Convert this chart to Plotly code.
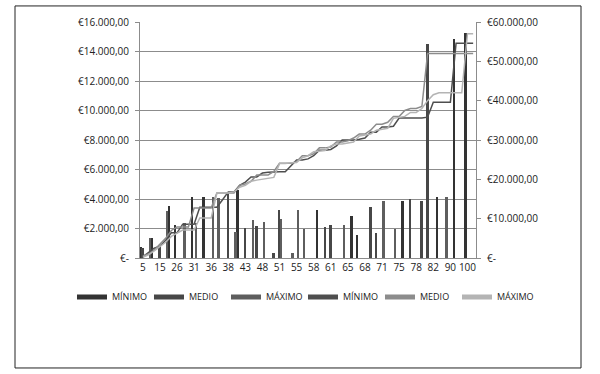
import plotly.graph_objects as go

# ---- data -------------------------------------------------------------
tick_labels = ["5", "15", "26", "31", "36", "38", "43", "48", "51", "55",
               "58", "61", "65", "68", "71", "75", "78", "82", "90", "100"]
n_slots = 59  # one labelled category every 3 slots

# bars (left axis) : slot index -> value
bar_min_slots = [0, 2, 5, 6, 9, 11, 17, 31, 37, 38, 46, 52, 55, 57]
bar_min_vals = [750, 1350, 3500, 2250, 4150, 4150, 4600, 3250, 2850, 1560, 3860, 4140, 14850, 15250]

bar_med_slots = [0, 3, 15, 18, 20, 23, 24, 32, 33, 40, 41, 47, 49, 50]
bar_med_vals = [700, 800, 4450, 2030, 2170, 340, 3250, 2100, 2240, 3450, 1700, 4000, 3860, 14500]

bar_max_slots = [1, 4, 7, 9, 12, 13, 16, 19, 21, 24, 26, 27, 28, 35, 42, 44, 53]
bar_max_vals = [1350, 3200, 2350, 2350, 4150, 4100, 1760, 2580, 2440, 2640, 340, 3250, 1970, 2240, 3860, 1970, 4140]

# lines (right axis): one value per slot
line_min = [300, 1500, 2500, 3000, 4500, 6400, 6400, 8600, 8600, 8600,
            12900, 12900, 12900, 12900, 14800, 16800, 16800, 18500, 19300, 20600,
            20600, 21600, 21800, 21900, 21900, 21900, 23500, 24900, 24900, 25200,
            26000, 27400, 27400, 27600, 28500, 30000, 30000, 30000, 30200, 30500,
            32000, 32000, 33300, 33300, 33500, 35600, 35600, 35600, 35600, 35600,
            35800, 39600, 39600, 39600, 39600, 54600, 54600, 54600, 54600]
line_med = [500, 1000, 2000, 3500, 5000, 7000, 7900, 7900, 7900, 12700,
            12700, 12700, 12700, 16500, 16500, 16500, 16500, 18500, 18800, 19500,
            21100, 21100, 21100, 22000, 24100, 24100, 24100, 24500, 26000, 26000,
            26500, 28000, 28000, 28200, 29500, 29500, 29800, 30500, 31500, 31500,
            32500, 34000, 34000, 34500, 36000, 36000, 37500, 38000, 38000, 38500,
            52000, 52000, 52000, 52000, 52000, 52000, 52000, 52000, 52000]
line_max = [200, 800, 1800, 3000, 4000, 5500, 6300, 7100, 7100, 7100,
            10200, 10200, 10200, 16500, 16500, 16500, 16800, 18000, 18500, 19500,
            19800, 20000, 20300, 20500, 24000, 24000, 24200, 24300, 25500, 26000,
            27000, 27200, 27300, 28500, 29000, 29000, 29200, 29500, 31000, 31300,
            31500, 32500, 32800, 33000, 35500, 35800, 36000, 37000, 37000, 38000,
            40000, 41500, 42000, 42000, 42000, 42000, 42000, 57000, 57000]

left_ticks = [0, 2000, 4000, 6000, 8000, 10000, 12000, 14000, 16000]
left_text = ["€-", "€2.000,00", "€4.000,00", "€6.000,00", "€8.000,00",
             "€10.000,00", "€12.000,00", "€14.000,00", "€16.000,00"]
right_ticks = [0, 10000, 20000, 30000, 40000, 50000, 60000]
right_text = ["€-", "€10.000,00", "€20.000,00", "€30.000,00",
              "€40.000,00", "€50.000,00", "€60.000,00"]

bar_names = ["MÍNIMO", "MEDIO", "MÁXIMO"]
line_names = ["MÍNIMO", "MEDIO", "MÁXIMO"]
bar_colors = ["#333333", "#474747", "#5e5e5e"]
line_colors = ["#4e4e4e", "#8c8c8c", "#b4b4b4"]

# ---- figure -----------------------------------------------------------
fig = go.Figure()
for name, xs, ys, c in zip(bar_names,
                           [bar_min_slots, bar_med_slots, bar_max_slots],
                           [bar_min_vals, bar_med_vals, bar_max_vals],
                           bar_colors):
    fig.add_trace(go.Bar(x=xs, y=ys, name=name, marker_color=c,
                         marker_line_width=0, yaxis="y", showlegend=False))

slots = list(range(n_slots))
for name, ys, c in zip(line_names, [line_min, line_med, line_max], line_colors):
    fig.add_trace(go.Scatter(x=slots, y=ys, name=name, mode="lines",
                             line=dict(color=c, width=1.5), yaxis="y2",
                             showlegend=False))

# legend entries (thick swatches as in the reference)
for name, c in zip(bar_names + line_names, bar_colors + line_colors):
    fig.add_trace(go.Scatter(x=[None], y=[None], mode="lines", name=name,
                             line=dict(color=c, width=5), showlegend=True))

axis_col = "#8c8c8c"
fig.update_layout(
    width=600, height=374,
    margin=dict(l=140, r=124, t=22, b=116, autoexpand=False),
    paper_bgcolor="white", plot_bgcolor="white",
    barmode="group", bargap=0.0, bargroupgap=0.0,
    font=dict(family="Open Sans", size=10, color="#222222"),
    showlegend=True,
    legend=dict(orientation="h", x=-0.2024, xanchor="left",
                y=-0.165, yanchor="middle",
                font=dict(size=9, color="#222222"),
                itemwidth=30, tracegroupgap=0, entrywidth=32,
                entrywidthmode="pixels"),
    xaxis=dict(range=[-0.5, n_slots - 0.5], tickmode="array",
               tickvals=[3 * i for i in range(len(tick_labels))],
               ticktext=tick_labels, showgrid=False, zeroline=False,
               showline=True, linecolor=axis_col, linewidth=1, ticks="",
               automargin=False),
    yaxis=dict(range=[0, 16000], tickmode="array", tickvals=left_ticks,
               ticktext=left_text, showgrid=True, gridcolor=axis_col,
               gridwidth=1, zeroline=False, showline=True, linecolor=axis_col,
               ticks="outside", ticklen=4, tickcolor=axis_col,
               ticklabelstandoff=4, automargin=False),
    yaxis2=dict(range=[0, 60000], overlaying="y", side="right",
                tickmode="array", tickvals=right_ticks, ticktext=right_text,
                showgrid=False, zeroline=False, showline=True,
                linecolor=axis_col, ticks="outside", ticklen=4,
                tickcolor=axis_col, ticklabelstandoff=4, automargin=False),
    shapes=[dict(type="rect", xref="paper", yref="paper",
                 x0=-0.372, x1=1.3125, y0=-0.466, y1=1.068,
                 line=dict(color="#222222", width=1), fillcolor="rgba(0,0,0,0)",
                 layer="below")],
)

fig.write_html("out.html", config={"displayModeBar": False},
               post_script="document.body.style.margin='0';")
